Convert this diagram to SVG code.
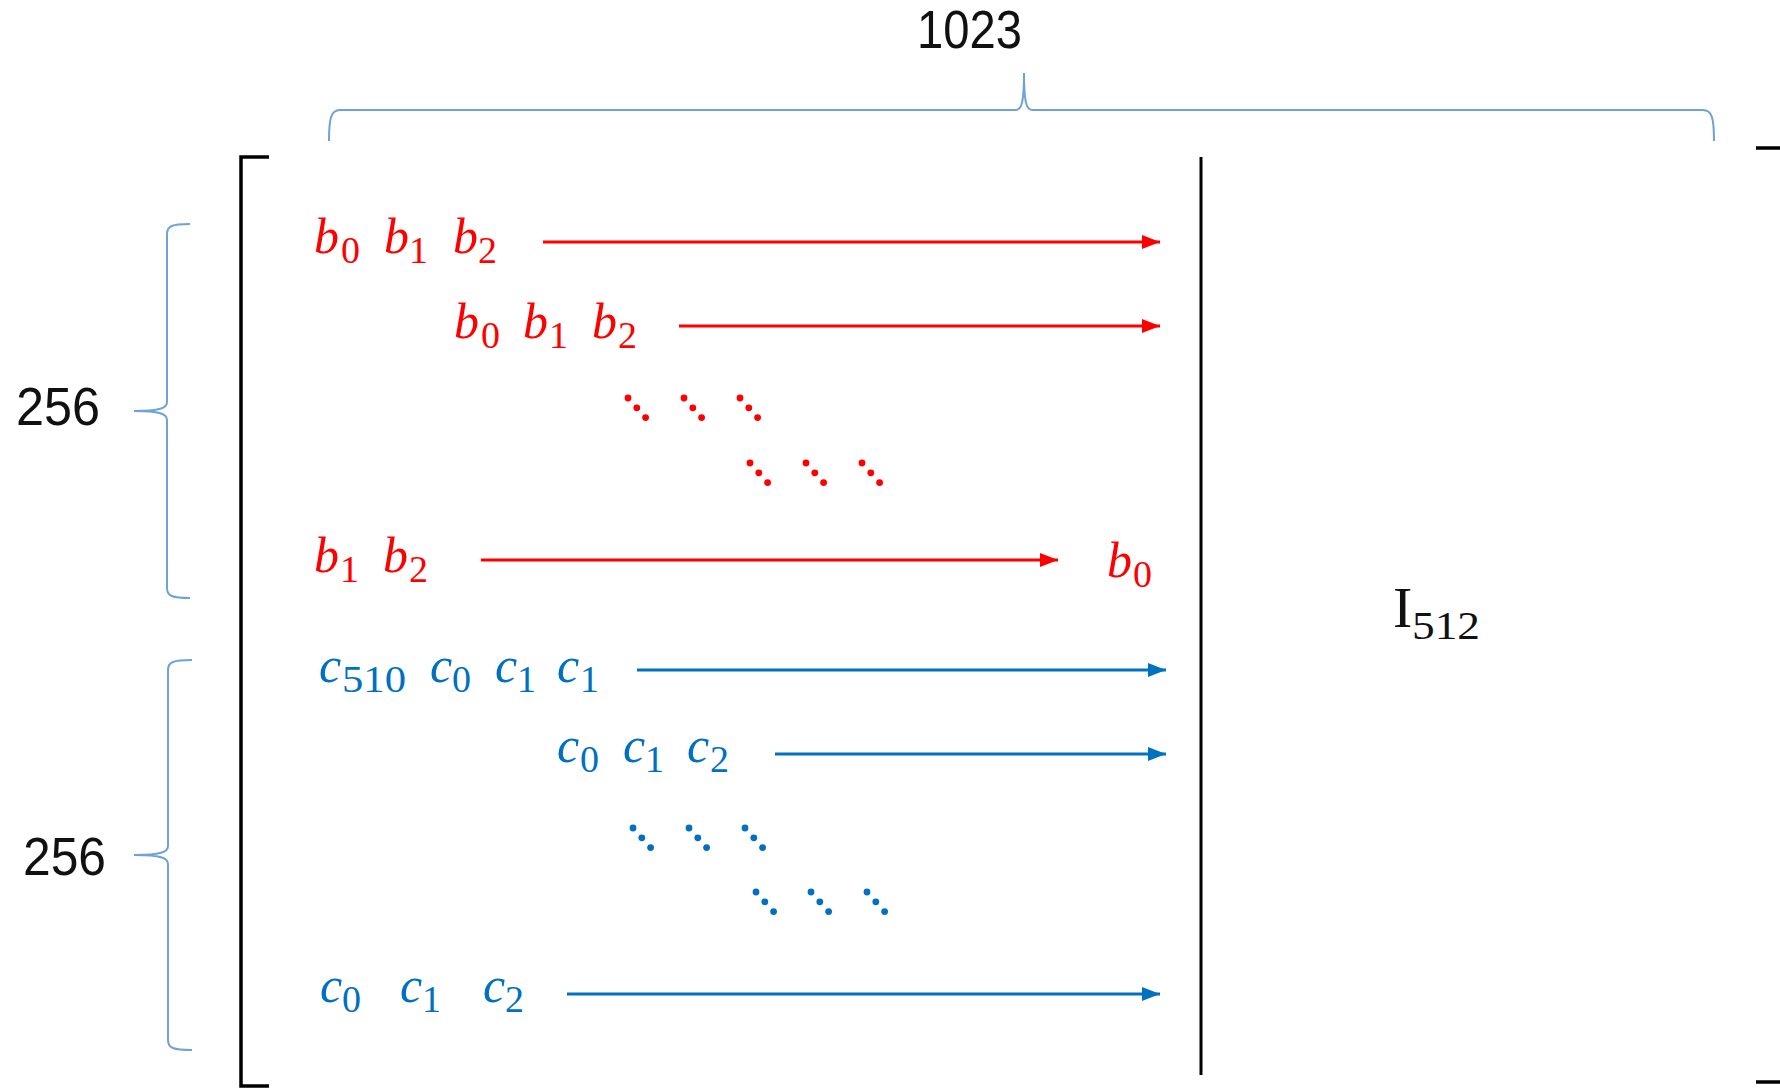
<svg xmlns="http://www.w3.org/2000/svg" width="1780" height="1090" viewBox="0 0 1780 1090">
<style>
.num{font-family:"Liberation Sans",Arial,sans-serif;font-size:53px;fill:#111}
.m{font-family:"Liberation Serif","Times New Roman",serif;font-style:italic;font-size:50px}
.s{font-family:"Liberation Serif","Times New Roman",serif;font-size:38px}
.r{fill:#FF0000}
.b{fill:#0070C0}
.brace{fill:none;stroke:#6FA3D8;stroke-width:2}
.blk{fill:none;stroke:#000;stroke-width:3.5}
.ar{stroke-width:3}
</style>
<defs>
<marker id="ahr" markerUnits="userSpaceOnUse" markerWidth="19" markerHeight="15" refX="18" refY="7" orient="auto"><path d="M0,0 L18,7 L0,14 z" fill="#FF0000"/></marker>
<marker id="ahb" markerUnits="userSpaceOnUse" markerWidth="19" markerHeight="15" refX="18" refY="7" orient="auto"><path d="M0,0 L18,7 L0,14 z" fill="#0070C0"/></marker>
<g id="dr"><circle cx="0" cy="0" r="3.4" fill="#FF0000"/><circle cx="8.8" cy="9.8" r="3.4" fill="#FF0000"/><circle cx="17.6" cy="19.6" r="3.4" fill="#FF0000"/></g>
<g id="db"><circle cx="0" cy="0" r="3.4" fill="#0070C0"/><circle cx="8.8" cy="9.8" r="3.4" fill="#0070C0"/><circle cx="17.6" cy="19.6" r="3.4" fill="#0070C0"/></g>
</defs>

<g id="dimensions">
<text class="num" x="917" y="48" textLength="105" lengthAdjust="spacingAndGlyphs">1023</text>
<path class="brace" d="M329,141 C329,118 331,110 340,110 L1016,110 C1022,110 1024,100 1024,73 C1024,100 1026,110 1032,110 L1703,110 C1712,110 1714,118 1714,141"/>
<text class="num" x="16" y="425" textLength="84" lengthAdjust="spacingAndGlyphs">256</text>
<path class="brace" d="M190,224 C172,224 167,226 167,234 L167,402 C167,408 160,411 134,411 C160,411 167,414 167,420 L167,588 C167,596 172,598 190,598"/>
<text class="num" x="23" y="875" textLength="83" lengthAdjust="spacingAndGlyphs">256</text>
<path class="brace" d="M192,660 C173,660 168,662 168,670 L168,846 C168,852 161,855 134,855 C161,855 168,858 168,864 L168,1040 C168,1048 173,1050 192,1050"/>
</g>

<g id="matrix">
<path class="blk" d="M269,157 L241,157 L241,1086 L269,1086"/>
<path class="blk" d="M1756,148 L1783,148 L1783,1082 L1756,1082"/>
<line x1="1201" y1="157" x2="1201" y2="1075" stroke="#000" stroke-width="3"/>
</g>

<g id="row-b1">
<text class="m r" x="314" y="253">b</text><text class="s r" x="341" y="263">0</text>
<text class="m r" x="384" y="253">b</text><text class="s r" x="409" y="263">1</text>
<text class="m r" x="453" y="253">b</text><text class="s r" x="478" y="263">2</text>
</g>
<g id="row-b2">
<text class="m r" x="454" y="338">b</text><text class="s r" x="481" y="348">0</text>
<text class="m r" x="523" y="338">b</text><text class="s r" x="549" y="348">1</text>
<text class="m r" x="592" y="338">b</text><text class="s r" x="618" y="348">2</text>
</g>
<g id="dots-red">
<use href="#dr" x="628" y="398"/><use href="#dr" x="684" y="398"/><use href="#dr" x="740" y="398"/>
<use href="#dr" x="750" y="463"/><use href="#dr" x="806" y="463"/><use href="#dr" x="862" y="463"/>
</g>
<g id="row-b3">
<text class="m r" x="314" y="572">b</text><text class="s r" x="340" y="582">1</text>
<text class="m r" x="383" y="572">b</text><text class="s r" x="409" y="582">2</text>
<text class="m r" x="1107" y="577">b</text><text class="s r" x="1133" y="587">0</text>
</g>

<g id="row-c1">
<text class="m b" x="319" y="682">c</text><text class="s b" x="342" y="692" textLength="64" lengthAdjust="spacingAndGlyphs">510</text>
<text class="m b" x="430" y="682">c</text><text class="s b" x="452" y="692">0</text>
<text class="m b" x="495" y="682">c</text><text class="s b" x="517" y="692">1</text>
<text class="m b" x="557" y="682">c</text><text class="s b" x="580" y="692">1</text>
</g>
<g id="row-c2">
<text class="m b" x="557" y="762">c</text><text class="s b" x="580" y="772">0</text>
<text class="m b" x="623" y="762">c</text><text class="s b" x="645" y="772">1</text>
<text class="m b" x="687" y="762">c</text><text class="s b" x="710" y="772">2</text>
</g>
<g id="dots-blue">
<use href="#db" x="633" y="828"/><use href="#db" x="689" y="828"/><use href="#db" x="745" y="828"/>
<use href="#db" x="756" y="892"/><use href="#db" x="811" y="892"/><use href="#db" x="867" y="892"/>
</g>
<g id="row-c3">
<text class="m b" x="320" y="1002">c</text><text class="s b" x="342" y="1012">0</text>
<text class="m b" x="400" y="1002">c</text><text class="s b" x="422" y="1012">1</text>
<text class="m b" x="483" y="1002">c</text><text class="s b" x="505" y="1012">2</text>
</g>

<g id="identity">
<text x="1393" y="627" font-family="'Liberation Serif','Times New Roman',serif" font-size="58" fill="#111">I</text>
<text x="1412" y="639" font-family="'Liberation Serif','Times New Roman',serif" font-size="40" fill="#111" textLength="68" lengthAdjust="spacingAndGlyphs">512</text>
</g>

<g id="connectors">
<line class="ar" x1="543" y1="242" x2="1160" y2="242" stroke="#FF0000" marker-end="url(#ahr)"/>
<line class="ar" x1="679" y1="326" x2="1160" y2="326" stroke="#FF0000" marker-end="url(#ahr)"/>
<line class="ar" x1="481" y1="560" x2="1058" y2="560" stroke="#FF0000" marker-end="url(#ahr)"/>
<line class="ar" x1="637" y1="670" x2="1166" y2="670" stroke="#0070C0" marker-end="url(#ahb)"/>
<line class="ar" x1="775" y1="754" x2="1166" y2="754" stroke="#0070C0" marker-end="url(#ahb)"/>
<line class="ar" x1="567" y1="994" x2="1160" y2="994" stroke="#0070C0" marker-end="url(#ahb)"/>
</g>
</svg>
